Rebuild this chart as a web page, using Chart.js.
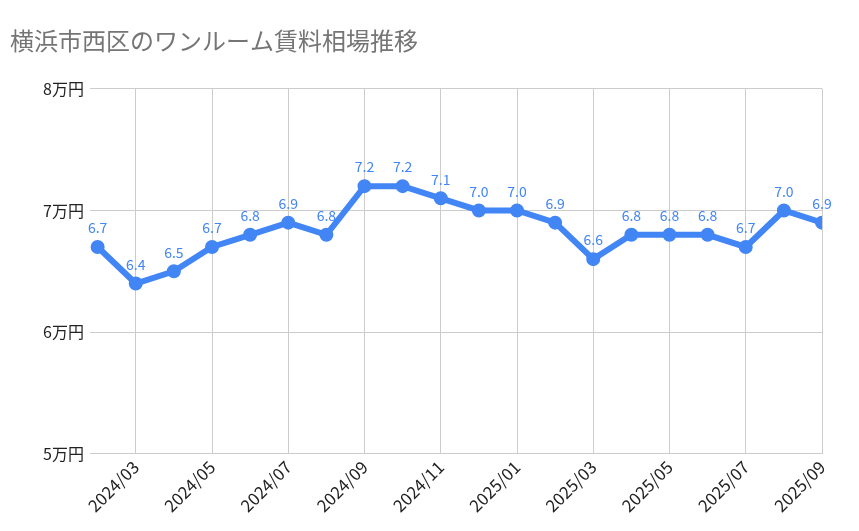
<!DOCTYPE html>
<html>
<head>
<meta charset="utf-8">
<script src="https://cdn.jsdelivr.net/npm/chart.js@4/dist/chart.umd.min.js"></script>
<style>
  body { margin: 0; background: #fff; }
  #wrap { position: relative; width: 859px; height: 531px; }
</style>
</head>
<body>
<div id="wrap"><canvas id="c"></canvas></div>
<script>
// 月ラベル（2024/02〜2025/09）
const months = ['2024/02','2024/03','2024/04','2024/05','2024/06','2024/07','2024/08','2024/09','2024/10','2024/11','2024/12',
                '2025/01','2025/02','2025/03','2025/04','2025/05','2025/06','2025/07','2025/08','2025/09'];
const rent = [6.7,6.4,6.5,6.7,6.8,6.9,6.8,7.2,7.2,7.1,7.0,7.0,6.9,6.6,6.8,6.8,6.8,6.7,7.0,6.9];
const yTicks = [5, 6, 7, 8];
const font = "'Noto Sans CJK JP', 'Noto Sans', sans-serif";

// 点の上に値を描く
const valueLabels = {
  id: 'valueLabels',
  afterDatasetsDraw(chart) {
    const ctx = chart.ctx;
    const meta = chart.getDatasetMeta(0);
    ctx.save();
    ctx.fillStyle = '#4285f4';
    ctx.font = `14px ${font}`;
    ctx.textAlign = 'center';
    ctx.textBaseline = 'bottom';
    meta.data.forEach((p, i) => ctx.fillText(rent[i].toFixed(1), p.x, p.y - 12));
    ctx.restore();
  }
};

new Chart(document.getElementById('c'), {
  type: 'line',
  data: {
    datasets: [{
      data: rent.map((v, i) => ({ x: i, y: v })),
      borderColor: '#4285f4',
      backgroundColor: '#4285f4',
      borderWidth: 6,
      pointRadius: 4,
      pointHoverRadius: 4,
      tension: 0
    }]
  },
  options: {
    responsive: true,
    maintainAspectRatio: false,
    animation: false,
    layout: { padding: { top: 10, right: 37, left: 10, bottom: 12 } },
    plugins: {
      legend: { display: false },
      tooltip: { enabled: false },
      title: {
        display: true, text: '横浜市西区のワンルーム賃料相場推移', align: 'start',
        color: '#757575', font: { family: font, size: 24, weight: 'normal' },
        padding: { top: 16, bottom: 34 }
      }
    },
    scales: {
      x: {
        type: 'linear', min: -0.2, max: months.length - 1,
        afterBuildTicks(s) { s.ticks = months.map((m, i) => ({ value: i })).filter(t => t.value % 2 === 1); },
        ticks: {
          callback: v => months[v], maxRotation: 45, minRotation: 45,
          color: '#222', font: { family: font, size: 17 }
        },
        grid: { color: '#cccccc', drawTicks: false },
        border: { color: '#cccccc' }
      },
      y: {
        min: 5, max: 8,
        afterBuildTicks(s) { s.ticks = yTicks.map(v => ({ value: v })); },
        afterFit(s) { s.width = 80; },
        ticks: { callback: v => v + '万円', color: '#222', font: { family: font, size: 16 }, padding: 6 },
        grid: { color: '#cccccc', drawTicks: false },
        border: { display: false }
      }
    }
  },
  plugins: [valueLabels]
});
</script>
</body>
</html>
